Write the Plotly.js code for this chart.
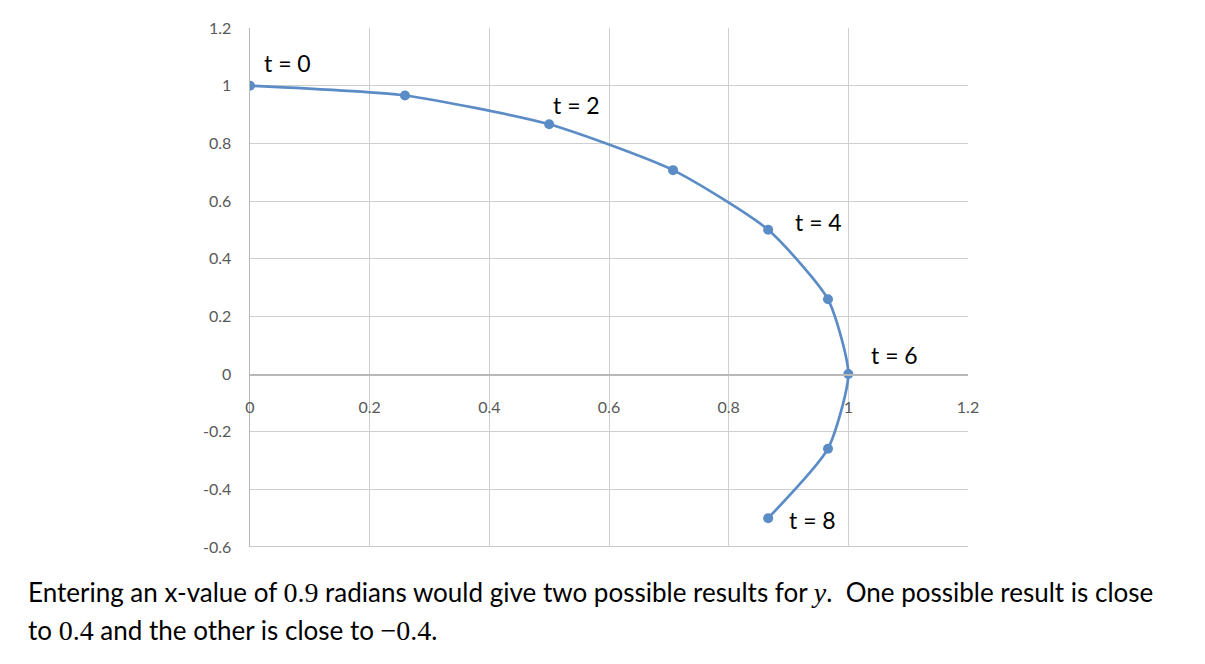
<!DOCTYPE html>
<html>
<head>
<meta charset="utf-8">
<script src="https://cdn.plot.ly/plotly-3.0.1.min.js"></script>
<style>html,body{margin:0;padding:0;background:#fff;}#chart{width:1205px;height:664px;}</style>
</head>
<body>
<div id="chart"></div>
<script>
// Data
var tValues = [0, 1, 2, 3, 4, 5, 6, 7, 8];
var xValues = [0, 0.259, 0.5, 0.707, 0.866, 0.966, 1, 0.966, 0.866];
var yValues = [1, 0.966, 0.866, 0.707, 0.5, 0.259, 0, -0.259, -0.5];
var labelIndices = [0, 2, 4, 6, 8];
var labelShiftX = [12, 2, 25, 21, 19];
var labelShiftY = [23, 19, 8, 19, -2];
var xTicks = [0, 0.2, 0.4, 0.6, 0.8, 1, 1.2];
var yTicks = [-0.6, -0.4, -0.2, 0, 0.2, 0.4, 0.6, 0.8, 1, 1.2];
var captionLine1 = 'Entering an x-value of <span style="font-family:Liberation Serif;font-size:28px">0.9</span> radians would give two possible results for <span style="font-family:Liberation Serif;font-size:28px"><i>y</i></span>.  One possible result is close';
var captionLine2 = 'to <span style="font-family:Liberation Serif;font-size:28px">0.4</span> and the other is close to <span style="font-family:Liberation Serif;font-size:28px">−0.4</span>.';

var lineColor = '#5b8cc6';
var trace = {
  x: xValues, y: yValues, mode: 'lines+markers', type: 'scatter',
  line: {color: lineColor, width: 2.7, shape: 'spline', smoothing: 0.6},
  marker: {color: lineColor, size: 10},
  hoverinfo: 'skip', showlegend: false
};

var fontFam = 'Lato, Open Sans, sans-serif';
var annotations = labelIndices.map(function(i, k){
  return {x: xValues[i], y: yValues[i], xref: 'x', yref: 'y', text: 't = ' + tValues[i],
    showarrow: false, xanchor: 'left', yanchor: 'middle',
    xshift: labelShiftX[k], yshift: labelShiftY[k],
    font: {family: fontFam, size: 23, color: '#000'}};
});
annotations.push({xref: 'paper', yref: 'paper', x: -0.3125, y: -0.0866, xanchor: 'left', yanchor: 'middle',
  text: captionLine1, showarrow: false, align: 'left',
  font: {family: fontFam, size: 26, color: '#000'}});
annotations.push({xref: 'paper', yref: 'paper', x: -0.3125, y: -0.1598, xanchor: 'left', yanchor: 'middle',
  text: captionLine2, showarrow: false, align: 'left',
  font: {family: fontFam, size: 26, color: '#000'}});

var gridColor = '#cfcfcf';
var layout = {
  width: 1205, height: 664,
  margin: {l: 250, r: 237, t: 28, b: 117},
  paper_bgcolor: '#fff', plot_bgcolor: '#fff',
  xaxis: {range: [0, 1.2], tickvals: xTicks, ticktext: xTicks.map(String),
    showgrid: true, gridcolor: gridColor, gridwidth: 1,
    zeroline: false, showline: true, linecolor: '#b8b8b8', linewidth: 1.5,
    anchor: 'free', position: 1/3, ticks: '', ticklabelstandoff: 18,
    tickfont: {family: fontFam, size: 16, color: '#595959'}, fixedrange: true},
  yaxis: {range: [-0.6, 1.2], tickvals: yTicks, ticktext: yTicks.map(function(v){return String(v);}),
    showgrid: true, gridcolor: gridColor, gridwidth: 1,
    zeroline: false, showline: true, linecolor: '#b8b8b8', linewidth: 1.5,
    ticks: '', ticklabelstandoff: 14,
    tickfont: {family: fontFam, size: 16, color: '#595959'}, fixedrange: true},
  shapes: [
    {type: 'line', xref: 'paper', yref: 'y', x0: 0, x1: 1, y0: -0.6, y1: -0.6, line: {color: '#b8b8b8', width: 1.5}, layer: 'below'}
  ],
  annotations: annotations
};

Plotly.newPlot('chart', [trace], layout, {displayModeBar: false, staticPlot: true});
</script>
</body>
</html>
